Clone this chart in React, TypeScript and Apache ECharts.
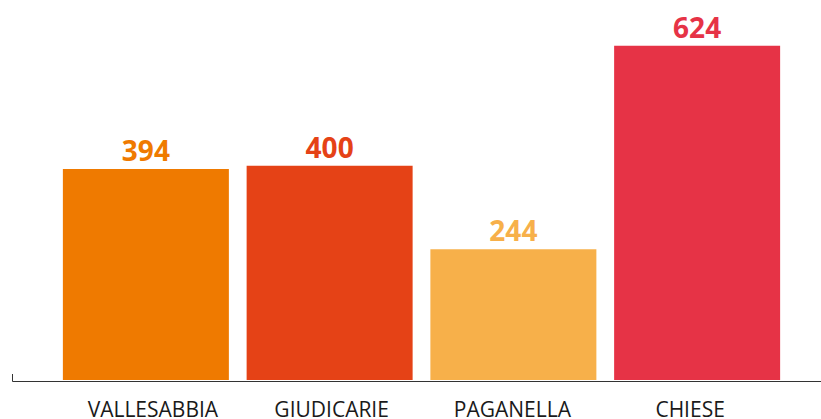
import React, { useEffect, useRef } from "react";
import * as echarts from "echarts";

const categories = ["VALLESABBIA", "GIUDICARIE", "PAGANELLA", "CHIESE"];
const values = [394, 400, 244, 624];
const colors = ["#EF7A00", "#E54216", "#F7B04A", "#E63346"];
const labelShift = [7, 2, -1, -7];

export default function App() {
  const ref = useRef<HTMLDivElement>(null);
  useEffect(() => {
    if (!ref.current) return;
    const chart = echarts.init(ref.current, undefined, { renderer: "svg" });
    chart.setOption({
      animation: false,
      grid: { left: 54, right: 32, top: 5, bottom: 37 },
      xAxis: {
        type: "category",
        data: categories.map((c, i) => ({
          value: c,
          textStyle: {
            padding:
              labelShift[i] >= 0
                ? [0, 0, 0, labelShift[i] * 2]
                : [0, -labelShift[i] * 2, 0, 0],
          },
        })),
        axisLine: { show: false },
        axisTick: { show: false },
        axisLabel: {
          color: "#1a1a1a",
          fontSize: 21,
          fontFamily: "Open Sans",
          margin: 18,
        },
      },
      yAxis: {
        type: "value",
        min: 0,
        max: 700,
        show: false,
        splitLine: { show: false },
      },
      graphic: [
        {
          type: "polyline",
          silent: true,
          z: 0,
          shape: { points: [[12.5, 374], [12.5, 381.5], [821, 381.5]] },
          style: { stroke: "#333", lineWidth: 1, fill: null },
        },
      ],
      series: [
        {
          type: "bar",
          barWidth: 166,
          z: 5,
          data: values.map((v, i) => ({
            value: v,
            itemStyle: { color: colors[i] },
            label: { color: colors[i] },
          })),
          label: {
            show: true,
            position: "top",
            distance: 5,
            fontSize: 28,
            fontWeight: "bold",
            fontFamily: "Open Sans",
          },
        },
      ],
    });
    return () => chart.dispose();
  }, []);
  return <div ref={ref} style={{ width: 821, height: 419, position: "absolute", left: 0, top: 0 }} />;
}
